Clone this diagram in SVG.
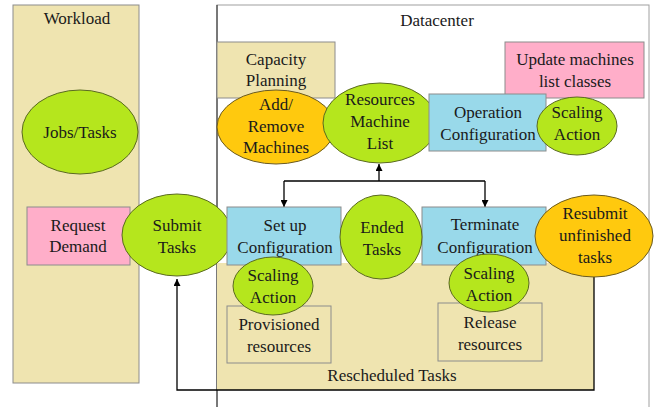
<svg xmlns="http://www.w3.org/2000/svg" width="657" height="407" viewBox="0 0 657 407">
<defs>
<style>
text{font-family:'Liberation Serif','Times New Roman',serif;font-size:17px;fill:#1a1a1a;text-anchor:middle}
.tan{fill:#efe4b0;stroke:#8c8c8c;stroke-width:1}
.pink{fill:#ffaec9;stroke:#8c8c8c;stroke-width:1}
.blue{fill:#99d9ea;stroke:#8c8c8c;stroke-width:1}
.green{fill:#b5e61d;stroke:#5a6a20;stroke-width:1}
.orange{fill:#ffc90e;stroke:#6a5a20;stroke-width:1}
.conn{fill:none;stroke:#000;stroke-width:1.3}
</style>
<marker id="ah" viewBox="0 0 10 10" refX="10" refY="5" markerWidth="7" markerHeight="7" markerUnits="userSpaceOnUse" orient="auto"><path d="M0,0 L10,5 L0,10 z" fill="#000"/></marker>
</defs>
<rect x="0" y="0" width="657" height="407" fill="#fff"/>
<g id="datacenter">
<rect x="217" y="5" width="432" height="410" fill="#fff" stroke="#a0a0a0" stroke-width="1"/>
<line x1="217" y1="5" x2="217" y2="407" stroke="#222" stroke-width="1"/>
<text x="437" y="26">Datacenter</text>
</g>
<g id="rescheduled">
<rect x="217" y="263" width="377" height="127" fill="#efe4b0"/>
<text x="392" y="381">Rescheduled Tasks</text>
</g>
<g id="workload">
<rect x="13" y="5" width="126" height="378" class="tan"/>
<text x="77" y="24">Workload</text>
</g>
<g id="connectors">
<path class="conn" d="M594,270 L594,390 L177,390 L177,279" marker-end="url(#ah)"/>
<path class="conn" d="M379,181 L379,164" marker-end="url(#ah)"/>
<path class="conn" d="M284,181 L485,181"/>
<path class="conn" d="M284,181 L284,207" marker-end="url(#ah)"/>
<path class="conn" d="M485,181 L485,207" marker-end="url(#ah)"/>
</g>
<g id="jobs"><ellipse cx="80" cy="132" rx="58" ry="42" class="green"/><text x="80" y="138">Jobs/Tasks</text></g>
<g id="request"><rect x="27" y="207" width="103" height="58" class="pink"/><text x="78" y="231">Request</text><text x="78" y="252">Demand</text></g>
<g id="submit"><ellipse cx="177" cy="235" rx="55" ry="41" class="green"/><text x="177" y="231">Submit</text><text x="177" y="253">Tasks</text></g>
<g id="capacity"><rect x="217" y="42" width="118" height="56" class="tan"/><text x="276" y="65">Capacity</text><text x="276" y="86">Planning</text></g>
<g id="update"><rect x="505" y="42" width="139" height="56" class="pink"/><text x="575" y="65">Update machines</text><text x="575" y="87">list classes</text></g>
<g id="addremove"><ellipse cx="276" cy="127" rx="59" ry="37" class="orange"/><text x="276" y="110">Add/</text><text x="276" y="132">Remove</text><text x="276" y="153">Machines</text></g>
<g id="resources"><ellipse cx="380" cy="123" rx="57" ry="40" class="green"/><text x="380" y="105">Resources</text><text x="380" y="127">Machine</text><text x="380" y="149">List</text></g>
<g id="operation"><rect x="429" y="94" width="117" height="57" class="blue"/><text x="488" y="118">Operation</text><text x="488" y="140">Configuration</text></g>
<g id="scaling-top"><ellipse cx="577" cy="126" rx="40" ry="29" class="green"/><text x="577" y="118">Scaling</text><text x="577" y="140">Action</text></g>
<g id="setup"><rect x="227" y="207" width="114" height="58" class="blue"/><text x="285" y="231">Set up</text><text x="285" y="253">Configuration</text></g>
<g id="provisioned"><rect x="227" y="306" width="104" height="57" class="tan"/><text x="279" y="330">Provisioned</text><text x="279" y="352">resources</text></g>
<g id="scaling-left"><ellipse cx="273" cy="286" rx="40" ry="29" class="green"/><text x="273" y="281">Scaling</text><text x="273" y="303">Action</text></g>
<g id="terminate"><rect x="422" y="207" width="124" height="58" class="blue"/><text x="485" y="230">Terminate</text><text x="485" y="253">Configuration</text></g>
<g id="ended"><ellipse cx="381" cy="237" rx="41" ry="42" class="green"/><text x="382" y="233">Ended</text><text x="382" y="255">Tasks</text></g>
<g id="release"><rect x="438" y="303" width="104" height="58" class="tan"/><text x="490" y="328">Release</text><text x="490" y="350">resources</text></g>
<g id="scaling-right"><ellipse cx="489" cy="283" rx="40" ry="29" class="green"/><text x="489" y="279">Scaling</text><text x="489" y="301">Action</text></g>
<g id="resubmit"><ellipse cx="594" cy="236" rx="59" ry="41" class="orange"/><text x="595" y="219">Resubmit</text><text x="595" y="241">unfinished</text><text x="595" y="263">tasks</text></g>
</svg>
